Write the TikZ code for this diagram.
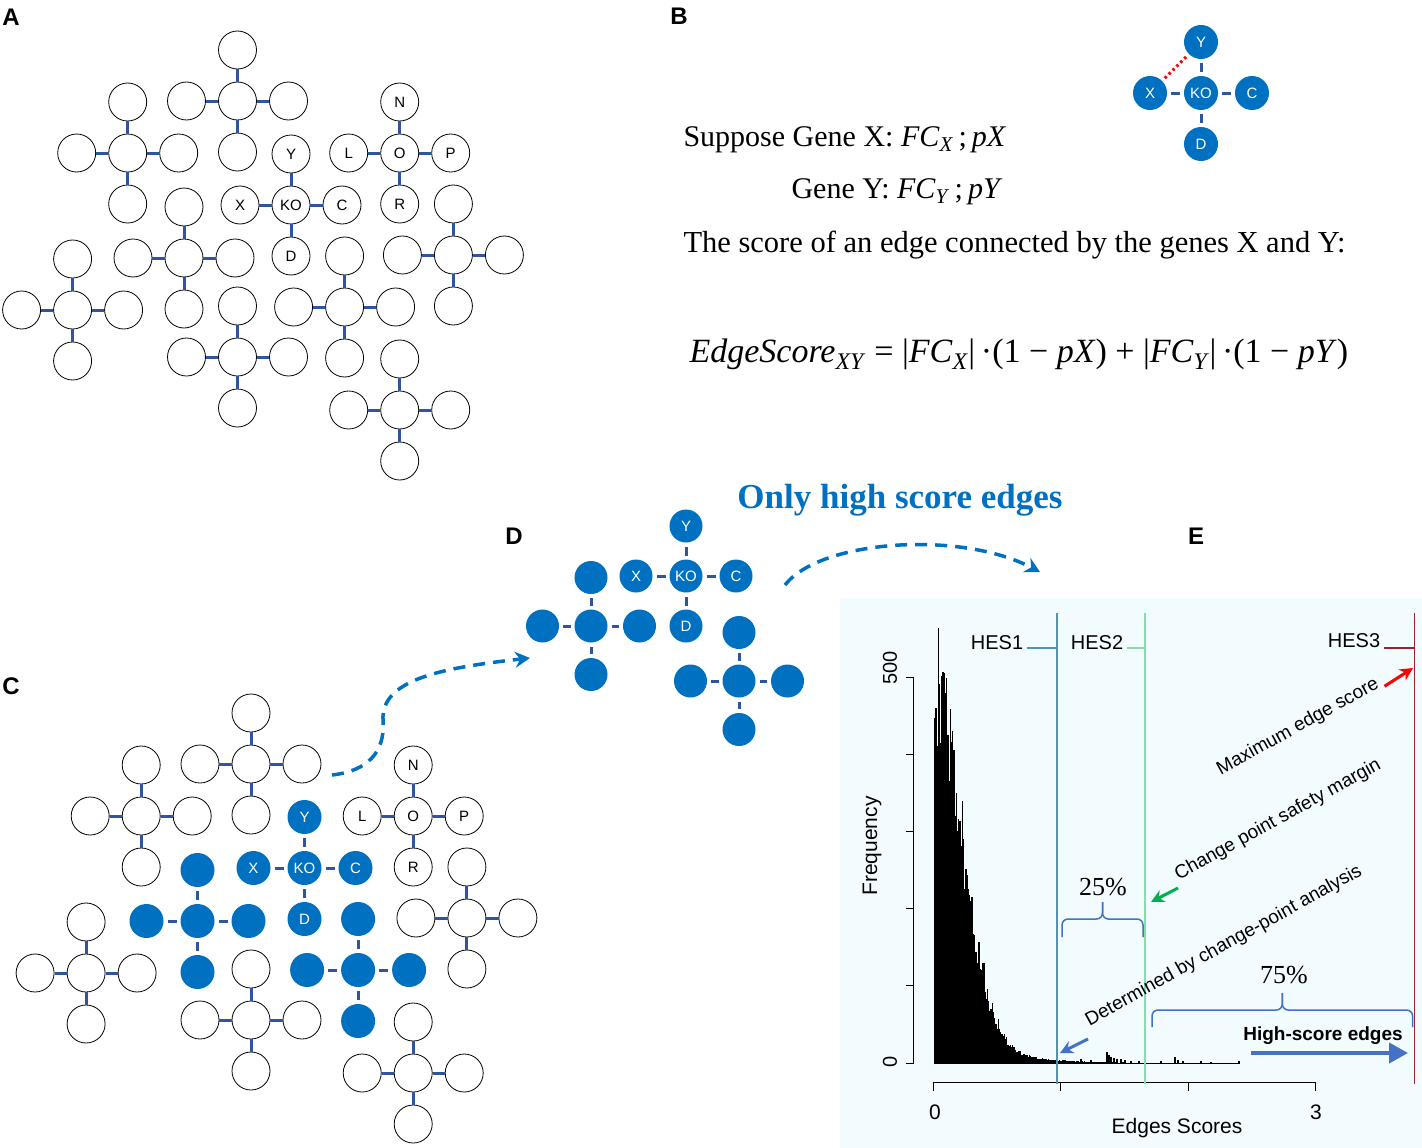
\documentclass[tikz,border=0pt]{standalone}
\usepackage{fontspec}
\setmainfont{Liberation Serif}
\newfontfamily\arialfont{Liberation Sans}
\usetikzlibrary{calc,arrows.meta}

\definecolor{hitblue}{RGB}{0,112,192}
\definecolor{linkblue}{RGB}{47,85,160}
\definecolor{bracecol}{RGB}{68,114,196}
\definecolor{ebg}{RGB}{242,251,253}
\definecolor{hesone}{RGB}{84,146,180}
\definecolor{hestwo}{RGB}{140,220,170}
\definecolor{hesthree}{RGB}{150,40,45}
\definecolor{arrgreen}{RGB}{0,176,80}

\newcommand{\fs}[1]{\fontsize{#1}{#1}\selectfont}

% one gene with its four neighbours
\def\stargap{51}
\newcommand{\genestar}[8][gnode]{%
  \node[#1] (#2) at #3 {#4};
  \node[#1] (#2-t) at ($#3+(0,-\stargap)$) {#5};
  \node[#1] (#2-l) at ($#3+(-\stargap,0)$) {#6};
  \node[#1] (#2-r) at ($#3+(\stargap,0)$) {#7};
  \node[#1] (#2-b) at ($#3+(0,\stargap)$) {#8};
  \foreach \s in {t,l,r,b} \draw[link] (#2) -- (#2-\s);
}
% the whole network, shifted by (#2,#3)
\newcommand{\genenet}[6]{%
  \genestar{#1s1}{(237.5+#2,101+#3)}{}{}{}{}{}
  \genestar{#1s2}{(127.7+#2,153+#3)}{}{}{}{}{}
  \genestar[#4]{#1ko}{(291+#2,205+#3)}{KO}{Y}{X}{C}{D}
  \genestar{#1o}{(399.7+#2,153+#3)}{O}{N}{L}{P}{R}
  \genestar[#5]{#1s3}{(184+#2,258+#3)}{}{}{}{}{}
  \genestar{#1s4}{(72.6+#2,310+#3)}{}{}{}{}{}
  \genestar{#1s5}{(237.5+#2,357+#3)}{}{}{}{}{}
  \genestar[#6]{#1s6}{(344.6+#2,307+#3)}{}{}{}{}{}
  \genestar{#1s7}{(453.4+#2,255+#3)}{}{}{}{}{}
  \genestar{#1s8}{(399.7+#2,410+#3)}{}{}{}{}{}
}
% flat brace: x from #1 to #2, feet at #3, bar at #4, tip at #5
\newcommand{\flatbrace}[5]{%
  \draw[hbrace] (#1,#3) -- (#1,#4) -- ({(#1+#2)/2},#4) -- ({(#1+#2)/2},#5);
  \draw[hbrace] (#2,#3) -- (#2,#4) -- ({(#1+#2)/2},#4) -- ({(#1+#2)/2},#5);
}

\begin{document}
\begin{tikzpicture}[x=1pt, y=-1pt,
  gnode/.style={circle, draw, line width=0.8pt, minimum size=38pt, inner sep=0pt, font=\arialfont\fs{15}},
  hit/.style={circle, fill=hitblue, text=white, minimum size=34pt, inner sep=0pt, outer sep=4pt, font=\arialfont\fs{15}},
  link/.style={linkblue, line width=3pt},
  tag/.style={font=\arialfont\bfseries\fs{24}},
  flow/.style={hitblue, line width=3.5pt, dash pattern=on 12pt off 8pt, -{Stealth[length=15pt,width=16pt,inset=5pt]}},
  axis/.style={line width=0.8pt},
  pointer/.style={line width=3pt, -{Stealth[length=13pt,width=13pt]}},
  slanted/.style={rotate=29, font=\arialfont\fs{19}},
  hbrace/.style={bracecol, line width=1.5pt, rounded corners=6pt}]
\useasboundingbox (0,0) rectangle (1422,1148);
\fill[ebg] (840,598) rectangle (1422,1148);

% panel letters
\node[tag] (tagA) at (11,17) {A};
\node[tag] (tagB) at (679,16) {B};
\node[tag] (tagC) at (11,686) {C};
\node[tag] (tagD) at (514,536) {D};
\node[tag] (tagE) at (1196,536) {E};

% A and C
\genenet{a}{0}{0}{gnode}{gnode}{gnode}
\genenet{c}{13.5}{663}{hit}{hit}{hit}

% B
\genestar[hit]{bko}{(1201,93)}{KO}{Y}{X}{C}{D}
\draw[red, line width=3pt, dash pattern=on 2.5pt off 3pt] (bko-l) -- (bko-t);
\node[anchor=base west, font=\fs{30}] (genex) at (680,146) {Suppose Gene X: \textit{FC}\textsubscript{\textit{X}}\,;\,\textit{pX}};
\node[anchor=base west, font=\fs{30}] (geney) at (788,198) {Gene Y: \textit{FC}\textsubscript{\textit{Y}}\,;\,\textit{pY}};
\node[anchor=base west, font=\fs{30.5}] (scoretxt) at (680,252) {The score of an edge connected by the genes X and Y:};
\node[anchor=base west, font=\fs{34}] (formula) at (686,362) {\textit{EdgeScore}\textsubscript{\textit{XY}} = |\textit{FC}\textsubscript{\textit{X}}|\,·(1 − \textit{pX}) + |\textit{FC}\textsubscript{\textit{Y}}|\,·(1 − \textit{pY})};

% D
\node[anchor=base, font=\bfseries\fs{35}, text=hitblue] (title) at (900,508) {Only high score edges};
\begin{scope}
\def\stargap{50}
\genestar[hit, minimum size=33pt]{dko}{(686,576)}{KO}{Y}{X}{C}{D}
\def\stargap{48.5}
\genestar[hit, minimum size=33pt]{ds3}{(591,626)}{}{}{}{}{}
\genestar[hit, minimum size=33pt]{ds6}{(739,681)}{}{}{}{}{}
\end{scope}
\coordinate (cout) at (332,775);
\coordinate (din) at (530,658);
\coordinate (dout) at (785,585);
\coordinate (ein) at (1040,572);
\draw[flow] (cout) .. controls (375,770) and (385,745) .. (383,720) .. controls (381,680) and (440,668) .. (din);
\draw[flow] (dout) .. controls (820,540) and (960,530) .. (ein);

% E: histogram
\pgfmathsetseed{42}
\foreach \i in {0,...,160} {
  \pgfmathsetmacro\d{1.2*\i}
  \pgfmathsetmacro\h{(330*exp(-(\d/40)^2)+60*exp(-\d/40))*(0.8+0.35*rnd)}
  \fill (934+\d,1063) rectangle ++(1.3,-\h);
}
\foreach \x/\h in {1064/3,1072/2,1080/4,1090/3,1106/11,1108/8,1110/6,1113/5,1116/4,1120/4,1124/3,1130/2,1138/2,1160/2,1174/6,1177/3,1182/2,1200/2,1210/1.5,1238/2}
  \fill (\x,1063) rectangle ++(1.5,-\h);
\draw[line width=0.6pt] (934,1063) -- (1240,1063);

\draw[axis] (913.6,677) -- (913.6,1063);
\foreach \t in {0,...,5} \draw[axis] (913.6,1063-77.2*\t) -- ++(-8,0);
\node[rotate=90, font=\arialfont\fs{20}] (yfive) at (890,668) {500};
\node[rotate=90, font=\arialfont\fs{20}] (yzero) at (890,1062) {0};
\node[rotate=90, font=\arialfont\fs{21}] (ylab) at (872,846) {Frequency};
\draw[axis] (933.5,1082) -- (1315.5,1082);
\foreach \t in {0,...,3} \draw[axis] (933.5+127.33*\t,1082) -- ++(0,9);
\node[font=\arialfont\fs{21}] (xzero) at (935,1112) {0};
\node[font=\arialfont\fs{21}] (xthree) at (1316,1112) {3};
\node[font=\arialfont\fs{21}] (xlab) at (1177,1128) {Edges Scores};

% thresholds
\draw[hesone, line width=1.2pt] (1057,613) -- (1057,1084);
\draw[hestwo, line width=1.2pt] (1145,613) -- (1145,1084);
\draw[hesthree, line width=1.8pt] (1414.5,613) -- (1414.5,1084);
\node[font=\arialfont\fs{20}] (hesA) at (997,643) {HES1};
\node[font=\arialfont\fs{20}] (hesB) at (1097,643) {HES2};
\node[font=\arialfont\fs{20}] (hesC) at (1354,641) {HES3};
\coordinate (hesAend) at (1057,648);
\coordinate (hesBend) at (1145,648);
\coordinate (hesCend) at (1414.5,648);
\draw[hesone, line width=1.2pt] (hesA.east |- hesAend) -- (hesAend);
\draw[hestwo, line width=1.2pt] (hesB.east |- hesBend) -- (hesBend);
\draw[hesthree, line width=1.5pt] (hesC.east |- hesCend) -- (hesCend);

\node[slanted] (maxtxt) at (1298,727) {Maximum edge score};
\node[slanted] (cptxt) at (1278,820) {Change point safety margin};
\node[slanted] (dettxt) at (1224,946) {Determined by change-point analysis};
\coordinate (maxtip) at (1413,668);
\coordinate (cptail) at (1178,888);
\coordinate (cptip) at (1151,902);
\coordinate (dettail) at (1088,1039);
\coordinate (dettip) at (1060,1053);
\draw[pointer, red] ([shift={(4,5)}]maxtxt.east) -- (maxtip);
\draw[pointer, arrgreen] (cptail) -- (cptip);
\draw[pointer, bracecol] (dettail) -- (dettip);

\flatbrace{1062}{1143}{937}{919}{902}
\node[anchor=base, font=\fs{26}] (pctA) at (1103,895) {25\%};
\flatbrace{1152}{1412.6}{1027}{1010}{993}
\node[anchor=base, font=\fs{26}] (pctB) at (1284,983) {75\%};

\node[font=\arialfont\bfseries\fs{19}] (hstxt) at (1323,1036) {High-score edges};
\coordinate (hsfrom) at (1251,1053);
\coordinate (hsto) at (1408,1053);
\draw[bracecol, line width=4pt, -{Triangle[length=19pt,width=20pt]}] (hsfrom) -- (hsto);
\end{tikzpicture}
\end{document}
